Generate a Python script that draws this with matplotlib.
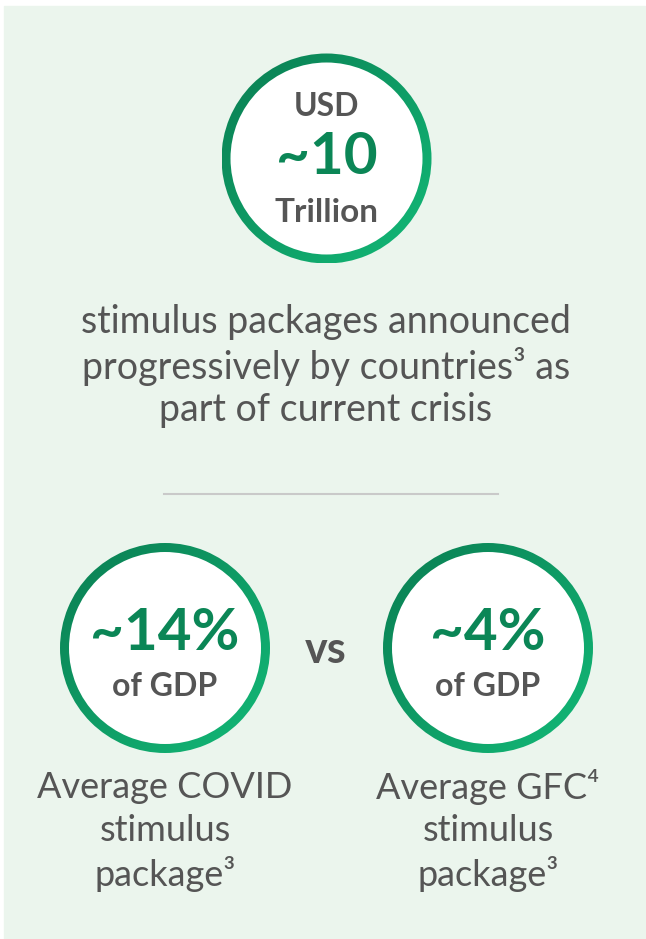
import numpy as np
import matplotlib.pyplot as plt
from matplotlib.patches import Circle, Wedge, Rectangle

plt.rcParams['font.family'] = ['Lato', 'DejaVu Sans']

# headline figures
headline_unit = "USD"
headline_value = "~10"
headline_scale = "Trillion"
headline_text = ["stimulus packages announced",
                 "progressively by countries\u00b3 as",
                 "part of current crisis"]

# comparison figures
compare_values = ["~14%", "~4%"]
compare_units = ["of GDP", "of GDP"]
compare_labels = [["Average COVID", "stimulus", "package\u00b3"],
                  ["Average GFC\u2074", "stimulus", "package\u00b3"]]

W, H = 646, 939
bg = '#ebf5ed'
gray = '#555555'
green = '#0b8656'
c_dark = np.array([10, 125, 82]) / 255
c_light = np.array([19, 186, 120]) / 255

fig = plt.figure(figsize=(W / 100, H / 100), dpi=100)
ax = fig.add_axes([0, 0, 1, 1])
ax.set_xlim(0, W)
ax.set_ylim(H, 0)
ax.axis('off')

ax.add_patch(Rectangle((4, 6), W - 5, H - 6, color=bg, zorder=0))


def ring(cx, cy, r, w=9):
    # gradient ring, dark at top-left, light at bottom-right
    n = 200
    g = np.linspace(0, 1, n)
    t = (g[None, :] + g[:, None]) / 2
    img = c_dark[None, None, :] * (1 - t[..., None]) + c_light[None, None, :] * t[..., None]
    im = ax.imshow(img, extent=[cx - r, cx + r, cy + r, cy - r], zorder=2,
                   interpolation='bilinear')
    wd = Wedge((cx, cy), r, 0, 360, width=w, transform=ax.transData)
    im.set_clip_path(wd)
    ax.add_patch(Circle((cx, cy), r - w + 0.5, color='white', zorder=1))


# top circle
ring(326.5, 158.5, 105)
ax.text(326.5, 106, headline_unit, ha='center', va='center', fontsize=23,
        fontweight='bold', color=gray, zorder=3)
ax.text(326.5, 158, headline_value, ha='center', va='center', fontsize=42,
        fontweight='bold', color=green, zorder=3)
ax.text(326.5, 212, headline_scale, ha='center', va='center', fontsize=24,
        fontweight='bold', color=gray, zorder=3)

for i, line in enumerate(headline_text):
    ax.text(326, 322 + i * 44, line, ha='center', va='center', fontsize=27,
            color=gray, zorder=3)

ax.plot([164, 498], [494, 494], color='#c9c9c9', lw=1.5, zorder=3)

# comparison circles
cxs = [165, 488]
for k in range(2):
    ring(cxs[k], 648, 105)
    ax.text(cxs[k], 633, compare_values[k], ha='center', va='center', fontsize=42,
            fontweight='bold', color=green, zorder=3)
    ax.text(cxs[k], 686, compare_units[k], ha='center', va='center', fontsize=23,
            fontweight='bold', color=gray, zorder=3)
    for i, line in enumerate(compare_labels[k]):
        ax.text(cxs[k], 787 + i * 43.5, line, ha='center', va='center', fontsize=26,
                color=gray, zorder=3)

ax.text(326, 650, "vs", ha='center', va='center', fontsize=31, fontweight='bold',
        color=gray, zorder=3)

fig.savefig('out.png', dpi=100)
